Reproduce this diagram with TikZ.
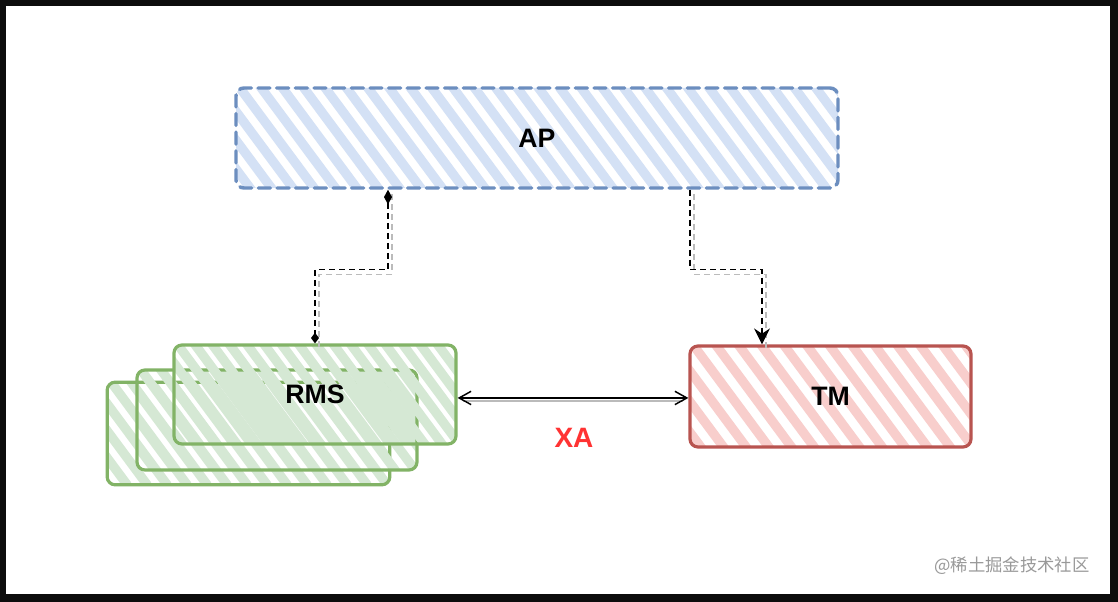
\documentclass[tikz,border=0pt]{standalone}
\usepackage{fontspec}
\setmainfont{Liberation Sans}
\newfontfamily\cjkfont{Noto Sans CJK SC}
\usetikzlibrary{arrows.meta}
\definecolor{apStroke}{HTML}{6C8EBF}
\definecolor{apFill}{HTML}{D4E1F5}
\definecolor{gStroke}{HTML}{82B366}
\definecolor{gFill}{HTML}{D5E8D4}
\definecolor{rStroke}{HTML}{B85450}
\definecolor{rFill}{HTML}{F8CECC}
\definecolor{xaRed}{HTML}{FF3333}
\definecolor{shadowGray}{HTML}{BBBBBB}
\tikzset{
  hatch/.style 2 args={path picture={
    \foreach \k in {-8,...,34}{
      \draw[solid,line width=7pt,#1,line cap=round]
        ([xshift=\k*#2,yshift=4pt]path picture bounding box.north west) -- ++(80,108);
    }}},
  box/.style={rounded corners=6pt, line width=2.4pt, inner sep=0pt,
    font=\bfseries\fontsize{20}{24}\selectfont},
  conn/.style={line width=1.1pt, dash pattern=on 4.5pt off 3pt},
  connshadow/.style={line width=1.1pt, dash pattern=on 4.5pt off 3pt, shadowGray,
    transform canvas={xshift=3pt,yshift=-3.5pt}},
}
\begin{document}
\begin{tikzpicture}[x=0.75pt,y=-0.75pt]
  \fill[black!95] (0,0) rectangle (1118,602);
  \fill[white] (6,6) rectangle (1110,594);

  % AP
  \node[box, draw=apStroke, line width=2.6pt, line cap=round, dash pattern=on 9pt off 5pt,
        hatch={apFill}{16pt}, minimum width=451.5pt, minimum height=75pt] (AP) at (537,138) {AP};

  % RMS stack
  \node[box, draw=gStroke, hatch={gFill}{15pt}, minimum width=212pt, minimum height=77pt] (RMS3) at (248.5,433.5) {};
  \node[box, draw=gStroke, hatch={gFill}{15pt}, minimum width=210pt, minimum height=75pt] (RMS2) at (277,420) {};
  \node[box, draw=gStroke, hatch={gFill}{13pt}, minimum width=211.5pt, minimum height=74.25pt] (RMS) at (315,394.5) {RMS};

  % TM
  \node[box, draw=rStroke, hatch={rFill}{17pt}, minimum width=210.75pt, minimum height=75.75pt] (TM) at (830.5,396.5) {TM};

  % AP -> RMS
  \draw[connshadow] ([xshift=-111.75pt]AP.south) -- ++(0,80) -| (RMS.north);
  \draw[conn, {Diamond[length=11pt,width=6pt]}-{Diamond[length=8pt,width=6pt]}]
    ([xshift=-111.75pt]AP.south) -- ++(0,80) -| (RMS.north);

  % AP -> TM
  \draw[connshadow] ([xshift=114.75pt]AP.south) -- ++(0,80) -| ([xshift=-51.375pt]TM.north);
  \draw[conn, -{Stealth[length=12pt,width=12pt,inset=4pt]}]
    ([xshift=114.75pt]AP.south) -- ++(0,80) -| ([xshift=-51.375pt]TM.north);

  % XA
  \draw[line width=1.3pt, shadowGray] ([xshift=4pt,yshift=-5pt]RMS.east) -- ([xshift=-4pt,yshift=-5pt]RMS.east -| TM.west);
  \draw[line width=1.1pt, {Straight Barb[length=9pt,width=10pt]}-{Straight Barb[length=9pt,width=10pt]}]
    ([yshift=-2.6pt]RMS.east) -- ([yshift=-2.6pt]RMS.east -| TM.west);
  \node[font=\bfseries\fontsize{21}{24}\selectfont, text=xaRed] (XA) at (574,438) {XA};

  % watermark
  \node[font=\cjkfont\fontsize{13}{15}\selectfont, text=black!40] (wm) at (1012,566) {@稀土掘金技术社区};
\end{tikzpicture}
\end{document}
